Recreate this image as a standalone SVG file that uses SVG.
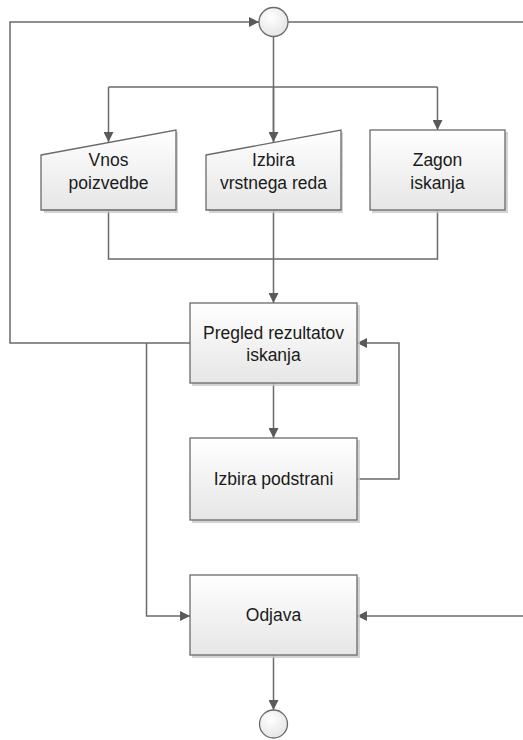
<svg xmlns="http://www.w3.org/2000/svg" width="523" height="740" viewBox="0 0 523 740">
  <defs>
    <linearGradient id="boxFill" x1="0" y1="0" x2="0" y2="1">
      <stop offset="0" stop-color="#ffffff"/>
      <stop offset="1" stop-color="#e6e6e6"/>
    </linearGradient>
    <radialGradient id="circFill" cx="0.4" cy="0.35" r="0.7">
      <stop offset="0" stop-color="#ffffff"/>
      <stop offset="1" stop-color="#e4e4e4"/>
    </radialGradient>
    <marker id="arrow" viewBox="0 0 10 10" refX="10" refY="5" markerWidth="10" markerHeight="10" markerUnits="userSpaceOnUse" orient="auto">
      <path d="M0,0 L10,5 L0,10 Z" fill="#5a5a5a"/>
    </marker>
  </defs>
  <style>
    .shape { fill: url(#boxFill); stroke: #6a6a6a; stroke-width: 1.3; }
    .shadow { fill: #c8c8c8; stroke: none; opacity: 0.8; }
    .circ { fill: url(#circFill); stroke: #6a6a6a; stroke-width: 1.3; }
    .edge { fill: none; stroke: #6a6a6a; stroke-width: 1.5; }
    .arr { marker-end: url(#arrow); }
    text { font-family: "Liberation Sans", Arial, sans-serif; font-size: 17.5px; fill: #1a1a1a; text-anchor: middle; }
  </style>

  <rect width="523" height="740" fill="#ffffff"/>

  <!-- connectors -->
  <g id="connectors">
    <!-- loop back from results to start -->
    <path class="edge arr" d="M190,343 H10 V22 H259"/>
    <!-- start continues to the right edge -->
    <path class="edge" d="M288,22 H523"/>
    <!-- start down to results -->
    <path class="edge arr" d="M273.5,37 V303"/>
    <!-- branch to the three inputs -->
    <path class="edge arr" d="M108.5,87 V142"/>
    <path class="edge" d="M108.5,87 H437.5"/>
    <path class="edge arr" d="M437.5,87 V130"/>
    <path class="edge arr" d="M273.5,87 V142"/>
    <!-- inputs merge -->
    <path class="edge" d="M108.5,210 V259 H437.5 V210"/>
    <!-- results to subpage choice -->
    <path class="edge arr" d="M273.5,383 V438"/>
    <!-- subpage choice back to results -->
    <path class="edge arr" d="M357,479 H399 V343 H357"/>
    <!-- results to logout -->
    <path class="edge arr" d="M146.5,343 V616 H190"/>
    <!-- incoming from the right to logout -->
    <path class="edge arr" d="M523,616 H357"/>
    <!-- logout to end -->
    <path class="edge arr" d="M273.5,655 V710"/>
  </g>

  <g id="start">
    <circle class="circ" cx="273.5" cy="22" r="14.5"/>
  </g>

  <g id="vnos">
    <path class="shadow" d="M44,157 L178,132 V213 H44 Z"/>
    <path class="shape" d="M41,155 L176,130 V210 H41 Z"/>
    <text x="108.5" y="166">Vnos</text>
    <text x="108.5" y="189">poizvedbe</text>
  </g>

  <g id="izbira-reda">
    <path class="shadow" d="M209,157 L343,132 V213 H209 Z"/>
    <path class="shape" d="M206,155 L341,130 V210 H206 Z"/>
    <text x="273.5" y="166">Izbira</text>
    <text x="273.5" y="189">vrstnega reda</text>
  </g>

  <g id="zagon">
    <rect class="shadow" x="372" y="132" width="136" height="81"/>
    <rect class="shape" x="370" y="130" width="135" height="80"/>
    <text x="437.5" y="166">Zagon</text>
    <text x="437.5" y="189">iskanja</text>
  </g>

  <g id="pregled">
    <rect class="shadow" x="192" y="305" width="168" height="81"/>
    <rect class="shape" x="190" y="303" width="167" height="80"/>
    <text x="273.5" y="339">Pregled rezultatov</text>
    <text x="273.5" y="361">iskanja</text>
  </g>

  <g id="podstrani">
    <rect class="shadow" x="192" y="440" width="168" height="83"/>
    <rect class="shape" x="190" y="438" width="167" height="82"/>
    <text x="273.5" y="485">Izbira podstrani</text>
  </g>

  <g id="odjava">
    <rect class="shadow" x="192" y="577" width="168" height="81"/>
    <rect class="shape" x="190" y="575" width="167" height="80"/>
    <text x="273.5" y="621">Odjava</text>
  </g>

  <g id="end">
    <circle class="circ" cx="273.5" cy="724" r="14"/>
  </g>
</svg>
